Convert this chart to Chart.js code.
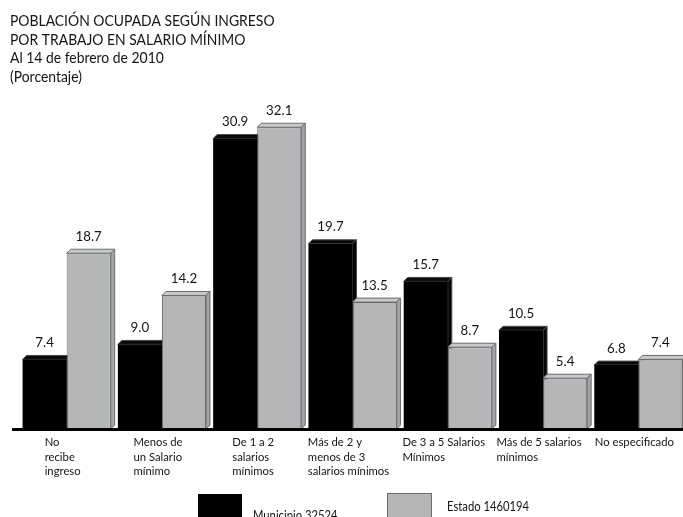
<!DOCTYPE html>
<html lang="es">
<head>
<meta charset="utf-8">
<title>Población ocupada según ingreso</title>
<script src="https://cdn.jsdelivr.net/npm/chart.js@4.4.1/dist/chart.umd.min.js"></script>
<style>
  html, body { margin: 0; padding: 0; background: #fff; overflow: hidden; }
  #wrap { position: absolute; left: 0; top: 0; width: 700px; height: 517px; }
</style>
</head>
<body>
<div id="wrap"><canvas id="grafico" width="700" height="517"></canvas></div>
<script>
(function () {
  'use strict';

  // --- Datos ---
  const titulo = [
    'POBLACIÓN OCUPADA SEGÚN INGRESO',
    'POR TRABAJO EN SALARIO MÍNIMO',
    'Al 14 de febrero de 2010',
    '(Porcentaje)'
  ];
  const categorias = [
    ['No', 'recibe', 'ingreso'],
    ['Menos de', 'un Salario', 'mínimo'],
    ['De 1 a 2', 'salarios', 'mínimos'],
    ['Más de 2 y', 'menos de 3', 'salarios mínimos'],
    ['De 3 a 5 Salarios', 'Mínimos'],
    ['Más de 5 salarios', 'mínimos'],
    ['No especificado']
  ];
  const municipio = [7.4, 9.0, 30.9, 19.7, 15.7, 10.5, 6.8];
  const estado = [18.7, 14.2, 32.1, 13.5, 8.7, 5.4, 7.4];
  const nombreMunicipio = 'Municipio 32524';
  const nombreEstado = 'Estado 1460194';

  const FUENTE = 'Lato, "Noto Sans", sans-serif';
  const TEXTO = '#151515';
  const ANGOSTO = 0.87; // la tipografía original es más estrecha
  const PROF = 4;       // profundidad del efecto 3D

  // texto comprimido horizontalmente
  function texto(ctx, s, x, y, sx) {
    ctx.save();
    ctx.translate(x, y);
    ctx.scale(sx, 1);
    ctx.fillText(s, 0, 0);
    ctx.restore();
  }

  // caras superior y lateral: se pintan antes que los frentes para que
  // la barra gris tape el costado de la negra
  const barras3D = {
    id: 'barras3D',
    beforeDatasetsDraw(chart) {
      const ctx = chart.ctx;
      ctx.save();
      ctx.lineWidth = 1;
      ctx.lineJoin = 'round';
      chart.data.datasets.forEach((ds, di) => {
        chart.getDatasetMeta(di).data.forEach(el => {
          const { x, y, base, width } = el.getProps(['x', 'y', 'base', 'width'], true);
          const l = x - width / 2, r = x + width / 2;
          ctx.strokeStyle = ds.borde3D;
          // cara superior
          ctx.beginPath();
          ctx.moveTo(l, y);
          ctx.lineTo(l + PROF, y - PROF);
          ctx.lineTo(r + PROF, y - PROF);
          ctx.lineTo(r, y);
          ctx.closePath();
          ctx.fillStyle = ds.caraSup;
          ctx.fill();
          ctx.stroke();
          // cara lateral
          ctx.beginPath();
          ctx.moveTo(r, y);
          ctx.lineTo(r + PROF, y - PROF);
          ctx.lineTo(r + PROF, base - PROF);
          ctx.lineTo(r, base);
          ctx.closePath();
          ctx.fillStyle = ds.caraLat;
          ctx.fill();
          ctx.stroke();
        });
      });
      ctx.restore();
    }
  };

  // título, eje, valores, etiquetas y leyenda
  const textos = {
    id: 'textos',
    afterDraw(chart) {
      const ctx = chart.ctx;
      const xs = chart.scales.x, ys = chart.scales.y;
      const y0 = ys.getPixelForValue(0);
      ctx.save();

      // línea base
      ctx.fillStyle = '#000';
      ctx.fillRect(12, y0 - 1, chart.width - 12, 3);

      // título
      ctx.fillStyle = TEXTO;
      ctx.textAlign = 'left';
      ctx.textBaseline = 'alphabetic';
      ctx.font = '16px ' + FUENTE;
      titulo.forEach((t, i) => texto(ctx, t, 10, 26 + i * 18.5, ANGOSTO));

      // valores sobre las barras
      ctx.font = '14px ' + FUENTE;
      ctx.textAlign = 'center';
      ctx.textBaseline = 'middle';
      chart.data.datasets.forEach((ds, di) => {
        chart.getDatasetMeta(di).data.forEach((el, i) => {
          texto(ctx, ds.data[i].toFixed(1), el.x, el.y - 17, 0.95);
        });
      });

      // etiquetas de categoría (bloque centrado, texto a la izquierda)
      const sxCat = 0.94;
      ctx.font = '12px ' + FUENTE;
      ctx.textAlign = 'left';
      ctx.textBaseline = 'middle';
      categorias.forEach((lineas, i) => {
        const cx = xs.getPixelForValue(i) - 4;
        const w = Math.max(...lineas.map(s => ctx.measureText(s).width)) * sxCat;
        const x = Math.min(cx - w / 2, 683 - w);
        lineas.forEach((s, j) => texto(ctx, s, x, 442.5 + j * 14.5, sxCat));
      });

      // leyenda
      const [dm, de] = chart.data.datasets;
      ctx.fillStyle = dm.backgroundColor;
      ctx.fillRect(198, 494, 44, 30);
      ctx.fillStyle = de.backgroundColor;
      ctx.fillRect(387.5, 493.5, 44, 30);
      ctx.strokeStyle = de.borderColor;
      ctx.lineWidth = 1;
      ctx.strokeRect(387.5, 493.5, 44, 30);
      ctx.fillStyle = TEXTO;
      ctx.font = '12.5px ' + FUENTE;
      texto(ctx, dm.label, 253, 516, 0.9);
      texto(ctx, de.label, 447, 507, 0.9);

      ctx.restore();
    }
  };

  new Chart(document.getElementById('grafico'), {
    type: 'bar',
    data: {
      labels: categorias,
      datasets: [
        {
          label: nombreMunicipio,
          data: municipio,
          backgroundColor: '#000000',
          borderWidth: 0,
          caraSup: '#0a0a0a',
          caraLat: '#050505',
          borde3D: '#4a4a4a'
        },
        {
          label: nombreEstado,
          data: estado,
          backgroundColor: '#b4b6b8',
          borderColor: '#6a6c6e',
          borderWidth: 1,
          caraSup: '#c6c8ca',
          caraLat: '#a2a4a6',
          borde3D: '#6a6c6e'
        }
      ]
    },
    options: {
      responsive: false,
      animation: false,
      layout: { padding: { left: 19, right: 14, top: 100, bottom: 88 } },
      datasets: { bar: { categoryPercentage: 0.925, barPercentage: 1 } },
      scales: {
        x: { display: false },
        y: { display: false, min: 0, max: 35 }
      },
      plugins: {
        legend: { display: false },
        tooltip: { enabled: false }
      }
    },
    plugins: [barras3D, textos]
  });
})();
</script>
</body>
</html>
